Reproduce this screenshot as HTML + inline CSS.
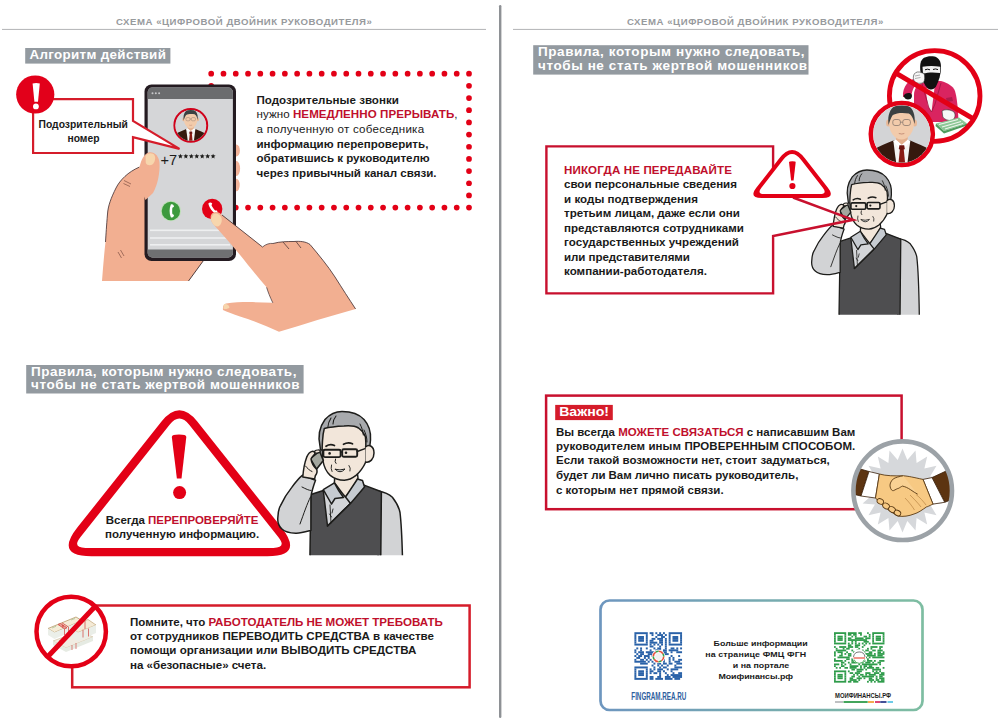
<!DOCTYPE html>
<html><head><meta charset="utf-8"><style>
html,body{margin:0;padding:0;background:#fff;}
body{width:1000px;height:724px;position:relative;overflow:hidden;font-family:"Liberation Sans", sans-serif;}
.t{position:absolute;white-space:nowrap;font-weight:bold;line-height:1;color:#1a1a1a;}
svg.g{position:absolute;left:0;top:0;}
</style></head><body>
<svg class="g" width="1000" height="724" viewBox="0 0 1000 724">
<defs>
 <linearGradient id="qrg" x1="0" y1="0" x2="1" y2="0">
  <stop offset="0" stop-color="#5a88b6"/><stop offset="1" stop-color="#6cb495"/>
 </linearGradient>
<clipPath id="bizclip"><circle r="28.6"/></clipPath>
 
<clipPath id="clipL"><rect x="0" y="380" width="500" height="175.3"/></clipPath>
<clipPath id="clipR"><rect x="500" y="150" width="500" height="164.8"/></clipPath>


</defs>
<!-- frame lines -->
<rect x="499" y="5" width="2.4" height="713" rx="1.2" fill="#8e9195"/>
<rect x="2" y="28.9" width="484" height="1.1" fill="#b9babc"/>
<rect x="513" y="28.9" width="485" height="1.1" fill="#b9babc"/>
<!-- labels -->
<rect x="25.2" y="48" width="145.2" height="15.6" fill="#939aa0"/>
<rect x="26.2" y="365" width="277.4" height="28.5" fill="#939aa0"/>
<rect x="533.2" y="45.2" width="275.3" height="29.4" fill="#939aa0"/>

<!-- ===== LEFT SECTION 1 ===== -->
<g id="dots" fill="#e30016"><circle cx="211.20" cy="73.70" r="2.85"/><circle cx="211.20" cy="207.60" r="2.85"/><circle cx="223.48" cy="73.70" r="2.85"/><circle cx="223.48" cy="207.60" r="2.85"/><circle cx="235.75" cy="73.70" r="2.85"/><circle cx="235.75" cy="207.60" r="2.85"/><circle cx="248.03" cy="73.70" r="2.85"/><circle cx="248.03" cy="207.60" r="2.85"/><circle cx="260.30" cy="73.70" r="2.85"/><circle cx="260.30" cy="207.60" r="2.85"/><circle cx="272.58" cy="73.70" r="2.85"/><circle cx="272.58" cy="207.60" r="2.85"/><circle cx="284.86" cy="73.70" r="2.85"/><circle cx="284.86" cy="207.60" r="2.85"/><circle cx="297.13" cy="73.70" r="2.85"/><circle cx="297.13" cy="207.60" r="2.85"/><circle cx="309.41" cy="73.70" r="2.85"/><circle cx="309.41" cy="207.60" r="2.85"/><circle cx="321.68" cy="73.70" r="2.85"/><circle cx="321.68" cy="207.60" r="2.85"/><circle cx="333.96" cy="73.70" r="2.85"/><circle cx="333.96" cy="207.60" r="2.85"/><circle cx="346.24" cy="73.70" r="2.85"/><circle cx="346.24" cy="207.60" r="2.85"/><circle cx="358.51" cy="73.70" r="2.85"/><circle cx="358.51" cy="207.60" r="2.85"/><circle cx="370.79" cy="73.70" r="2.85"/><circle cx="370.79" cy="207.60" r="2.85"/><circle cx="383.06" cy="73.70" r="2.85"/><circle cx="383.06" cy="207.60" r="2.85"/><circle cx="395.34" cy="73.70" r="2.85"/><circle cx="395.34" cy="207.60" r="2.85"/><circle cx="407.62" cy="73.70" r="2.85"/><circle cx="407.62" cy="207.60" r="2.85"/><circle cx="419.89" cy="73.70" r="2.85"/><circle cx="419.89" cy="207.60" r="2.85"/><circle cx="432.17" cy="73.70" r="2.85"/><circle cx="432.17" cy="207.60" r="2.85"/><circle cx="444.44" cy="73.70" r="2.85"/><circle cx="444.44" cy="207.60" r="2.85"/><circle cx="456.72" cy="73.70" r="2.85"/><circle cx="456.72" cy="207.60" r="2.85"/><circle cx="469.00" cy="73.70" r="2.85"/><circle cx="469.00" cy="207.60" r="2.85"/><circle cx="211.20" cy="85.87" r="2.85"/><circle cx="469.00" cy="85.87" r="2.85"/><circle cx="211.20" cy="98.05" r="2.85"/><circle cx="469.00" cy="98.05" r="2.85"/><circle cx="211.20" cy="110.22" r="2.85"/><circle cx="469.00" cy="110.22" r="2.85"/><circle cx="211.20" cy="122.39" r="2.85"/><circle cx="469.00" cy="122.39" r="2.85"/><circle cx="211.20" cy="134.56" r="2.85"/><circle cx="469.00" cy="134.56" r="2.85"/><circle cx="211.20" cy="146.74" r="2.85"/><circle cx="469.00" cy="146.74" r="2.85"/><circle cx="211.20" cy="158.91" r="2.85"/><circle cx="469.00" cy="158.91" r="2.85"/><circle cx="211.20" cy="171.08" r="2.85"/><circle cx="469.00" cy="171.08" r="2.85"/><circle cx="211.20" cy="183.26" r="2.85"/><circle cx="469.00" cy="183.26" r="2.85"/><circle cx="211.20" cy="195.43" r="2.85"/><circle cx="469.00" cy="195.43" r="2.85"/></g>
<!-- left hand back (behind phone) -->
<g id="lhand">
 <path d="M139.5,167 C128,172 120,180 116,188 C111,198 108,206 107.5,214 C106.5,226 106,234 105.5,242 C104,255 103,268 102,281 L188.5,281 L203.5,260.5 L150,200 Z" fill="#f2af91"/>
 <path d="M139.5,167 C128,172 120,180 116,188 C111,198 108,206 107.5,214 C106.5,226 106,234 105.5,242" fill="none" stroke="#3d2b2e" stroke-width="0.8"/>
 <path d="M188.5,281 L203.5,260.5" fill="none" stroke="#3d2b2e" stroke-width="0.9"/>
 <!-- fingers on right edge of phone -->
 <ellipse cx="236.3" cy="150.5" rx="3.6" ry="6" fill="#f3b49a"/>
 <ellipse cx="236.3" cy="168.5" rx="3.8" ry="7.5" fill="#f3b49a"/>
 <ellipse cx="236.3" cy="185" rx="3.4" ry="6.3" fill="#f3b49a"/>
</g>
<!-- phone -->
<g id="phone">
 <rect x="144.5" y="84.5" width="91.5" height="176.5" rx="7" fill="#241b21"/>
 <rect x="147.7" y="87.6" width="85.2" height="169.8" rx="4.5" fill="#d5d6d8"/>
 <path d="M147.7,99 V92 a4.5,4.5 0 0 1 4.5,-4.4 H228.4 a4.5,4.5 0 0 1 4.5,4.4 V99 Z" fill="#6b6c6e"/>
 <circle cx="152.5" cy="93.2" r="1" fill="#c9c9cb"/><circle cx="155.8" cy="93.2" r="1" fill="#c9c9cb"/><circle cx="159.1" cy="93.2" r="1" fill="#c9c9cb"/>
 <path d="M147.7,249.5 H232.9 V253 a4.5,4.5 0 0 1 -4.5,4.4 H152.2 a4.5,4.5 0 0 1 -4.5,-4.4 Z" fill="#6f7072"/>
 <rect x="150" y="229.5" width="80" height="1.6" fill="#eeeff0"/>
 <rect x="150" y="237.2" width="80" height="1.6" fill="#eeeff0"/>
 <rect x="150" y="244" width="80" height="1.6" fill="#eeeff0"/>
 <!-- avatar -->
 <circle cx="190.8" cy="125.4" r="16.3" fill="#d5d6d8" stroke="#d0021b" stroke-width="2.2"/>
 <g transform="translate(190.8,125.4) scale(0.54)"><g>
  <circle r="28.6" fill="#d3d4d6"/>
  <g clip-path="url(#bizclip)">
   <path d="M-30,30 L-30,17 C-24,12.5 -15,9.5 -8.5,6.5 L8.5,6.5 C15,9.5 24,12.5 30,17 L30,30 Z" fill="#35190e"/>
   <path d="M-8.5,6.5 L8.5,6.5 L5.5,30 L-5.5,30 Z" fill="#f4f4f2"/>
   <path d="M-5.5,-3 L5.5,-3 L6,6 L0,11 L-6,6 Z" fill="#e3b08e"/>
   <path d="M-6,5.5 L0,11 L-2.5,14 L-8.5,7.5 Z M6,5.5 L0,11 L2.5,14 L8.5,7.5 Z" fill="#fff"/>
   <path d="M-2.4,11.2 L2.4,11.2 L3,15 L0,17 L-3,15 Z" fill="#6e1510"/>
   <path d="M-2,16 L2,16 L3.4,30 L-3.4,30 Z" fill="#8a1b14"/>
   <ellipse cx="13" cy="-11" rx="2.2" ry="3.5" fill="#e8b896"/>
   <ellipse cx="-13.5" cy="-11" rx="2.2" ry="3.5" fill="#e8b896"/>
   <ellipse cx="-0.3" cy="-10.5" rx="12.3" ry="16" fill="#f2cbab"/>
   <path d="M-13.2,-9 C-15,-21 -10,-29.5 -1,-29.8 C9,-30 14,-23 12.8,-10 C11.5,-15 10.5,-18.5 7,-20.5 C2,-21.5 -5,-21.5 -9,-19 C-11,-16 -12,-13 -13.2,-9 Z" fill="#3b4142"/>
   <g fill="none" stroke="#8a7a70" stroke-width="0.8"><rect x="-9" y="-14.5" width="7.6" height="6" rx="2.2"/><rect x="1" y="-14.5" width="7.6" height="6" rx="2.2"/><path d="M-1.6,-11.8 H1"/></g>
   <path d="M-3,-0.5 Q0,0.5 2.5,-0.5" stroke="#b57a66" stroke-width="0.7" fill="none"/>
  </g>
 </g></g>
 <!-- call buttons -->
 <circle cx="170.9" cy="211" r="10.2" fill="#bfe0b8"/>
 <circle cx="170.9" cy="211" r="9.2" fill="#3c9a3d"/>
 <path d="M168.2,204.5 c2,-0.6 3,0.3 3.2,2.2 l-1.6,1 c-0.3,1.3 -0.3,5 0,6.3 l1.6,1 c-0.2,1.9 -1.2,2.8 -3.2,2.2 c-1.6,-3.5 -1.6,-9.2 0,-12.7 z" fill="#fff" transform="translate(2.6,0)"/>
 <circle cx="212.2" cy="209" r="10.2" fill="#e30016"/>
 <path d="M209.5,202.5 c2,-0.6 3,0.3 3.2,2.2 l-1.6,1 c-0.3,1.3 -0.3,5 0,6.3 l1.6,1 c-0.2,1.9 -1.2,2.8 -3.2,2.2 c-1.6,-3.5 -1.6,-9.2 0,-12.7 z" fill="#fff" transform="rotate(-35 212 209) translate(2.6,0)"/>
</g>
<!-- thumb over phone -->
<path d="M139.5,167 C141,160 144,154 148.5,152.5 C154,151 159,156 159.5,163 C160,172 158,184 153,193 L145.5,200 L139,185 Z" fill="#f2af91"/>
<path d="M145.5,156 C147,153 151,152.5 153.5,154 C156,156 155.5,161 153,164 C150.5,166 147,165.5 145.8,163 Z" fill="#f7d6ad"/>
<path d="M124,180.5 L131,184 M123.5,183.5 L130,186.5" stroke="#6b3f35" stroke-width="0.6"/>
<path d="M118,252 L121.5,258 M120.5,250 L124,256" stroke="#6b3f35" stroke-width="0.6"/>
<!-- right hand pointing -->
<g id="rhand">
 <path d="M212,213.5 C215,211 219,211.5 222,215 L262.5,247 C266,244 270,243 273,243.5 C280,241.5 287,241.5 294,241.5 C300,241 306,241.5 310,244.5 C318,254 328,266 335,277 C342,288 349,299 355.6,309 C330,316 305,324 279,331.8 C266,326 252,320 240,316.5 C233,314 227,312 223,310 C222.5,306 224,304 226,303.5 C240,301.5 256,302 272.8,302.8 C270,297 268,292 266.6,287.3 C260,280 254,272 248,265 C238,252 226,238 214,225 C210.5,221 209.5,216.5 212,213.5 Z" fill="#f2af91"/>
 <path d="M222,215 L262.5,247 M273,243.5 C280,241.5 287,241.5 294,241.5 C300,241 306,241.5 310,244.5 C318,254 328,266 335,277 C342,288 349,299 355.6,309" fill="none" stroke="#3d2b2e" stroke-width="0.8"/>
 <path d="M262.5,247 C266,244 270,243 273,243.5 M283,242 L289,249 M296,241.5 L301,248" fill="none" stroke="#3d2b2e" stroke-width="0.7"/>
 <path d="M266.6,287.3 C268,292 270,297 272.8,302.8" fill="none" stroke="#3d2b2e" stroke-width="0.7"/>
 <path d="M213,214.5 C216,212.5 220,214 221.5,218 C222.5,222 220.5,226 217.5,226.5 C214,226.5 211,222 211,218.5 Z" fill="#f7d6ad"/>
 <path d="M224,304 C227,303.5 229,305 229.5,307.5 C228,309 225,309.5 223.3,308.5 Z" fill="#f7d6ad"/>
</g>

<!-- speech box -->
<path d="M133,121 V99.2 H33.1 V153 H133 V137.2 L179.5,148.9 Z" fill="#fff" stroke="#d51c2a" stroke-width="2.2" stroke-linejoin="miter"/>
<circle cx="35.25" cy="94.5" r="19.1" fill="#e2001a"/>
<path d="M32.6,83.6 Q36.2,82.6 39.8,83.6 L38,101.7 L34.4,101.7 Z" fill="#fff"/>
<circle cx="35.9" cy="106.4" r="2.9" fill="#fff"/>
<!-- +7 -->
<text x="160.5" y="164.6" font-family="Liberation Sans" font-size="14.6" fill="#1d1d1b">+7</text>
<g fill="#1d1d1b" id="stars"><polygon points="180.40,153.70 181.08,155.37 182.87,155.50 181.49,156.66 181.93,158.40 180.40,157.45 178.87,158.40 179.31,156.66 177.93,155.50 179.72,155.37"/><polygon points="185.85,153.70 186.53,155.37 188.32,155.50 186.94,156.66 187.38,158.40 185.85,157.45 184.32,158.40 184.76,156.66 183.38,155.50 185.17,155.37"/><polygon points="191.30,153.70 191.98,155.37 193.77,155.50 192.39,156.66 192.83,158.40 191.30,157.45 189.77,158.40 190.21,156.66 188.83,155.50 190.62,155.37"/><polygon points="196.75,153.70 197.43,155.37 199.22,155.50 197.84,156.66 198.28,158.40 196.75,157.45 195.22,158.40 195.66,156.66 194.28,155.50 196.07,155.37"/><polygon points="202.20,153.70 202.88,155.37 204.67,155.50 203.29,156.66 203.73,158.40 202.20,157.45 200.67,158.40 201.11,156.66 199.73,155.50 201.52,155.37"/><polygon points="207.65,153.70 208.33,155.37 210.12,155.50 208.74,156.66 209.18,158.40 207.65,157.45 206.12,158.40 206.56,156.66 205.18,155.50 206.97,155.37"/><polygon points="213.10,153.70 213.78,155.37 215.57,155.50 214.19,156.66 214.63,158.40 213.10,157.45 211.57,158.40 212.01,156.66 210.63,155.50 212.42,155.37"/></g>


<!-- ===== LEFT SECTION 2 ===== -->
<path d="M161.50,421.46 L77.50,527.32 Q54.50,556.30 91.50,556.30 L267.30,556.30 Q304.30,556.30 281.30,527.32 L197.30,421.46 Q179.40,398.90 161.50,421.46 Z" fill="#e30016"/>
<path d="M169.58,424.79 L80.34,537.25 Q71.89,547.90 85.49,547.90 L273.31,547.90 Q286.91,547.90 278.46,537.25 L189.22,424.79 Q179.40,412.41 169.58,424.79 Z" fill="#fff"/>
<path d="M171.8,437 Q172,434.6 179,434.6 Q186.3,434.6 186.3,437 L181.5,478.4 L176.9,478.4 Z" fill="#e30016"/>
<circle cx="179.6" cy="492.6" r="6.5" fill="#e30016"/>
<g clip-path="url(#clipL)"><g stroke="#1d1d1b" stroke-width="1.5" stroke-linejoin="round" stroke-linecap="round">
  <!-- right sleeve -->
  <path d="M378,491 C384,492 389,494 392.4,497.3 C396,502 399,507 400,512.5 C401.5,525 402.5,545 403,585 L378,585 Z" fill="#d2d3d5"/>
  <!-- shirt inside V -->
  <path d="M322,491 L334.4,482.8 L358,478 L364,484.9 L349.6,504.2 L327.5,526 Z" fill="#d3d5d8" stroke="none"/>
  <!-- vest -->
  <path d="M310.9,494.5 L323.3,490.5 L327.5,526 L349.6,504.2 L363.4,484.9 L381.4,491.8 L380.5,585 L309.5,585 Z" fill="#4e4e50"/>
  <path d="M327.5,526 L349.6,504.2" fill="none"/>
  <!-- neck -->
  <path d="M334.4,482.8 C338,487 341.5,493 345.5,497 C350,492 355,485 358,478 L357,470 L335,472 Z" fill="#f2e6da"/>
  <!-- collars -->
  <path d="M323.3,489.7 L334.4,482.8 C337,488 340,493 343.5,497.5 L335,498.5 L331.5,504 Z" fill="#c6cbd1"/>
  <path d="M345.5,497 L357.5,479 L362.5,480.5 L364.5,487 L350.5,503.5 Z" fill="#c6cbd1"/>
  <path d="M330,505 L331,523 M333,509 L332,513 M329.5,514 L331.5,517" fill="none" stroke-width="0.9"/>
  <!-- left arm sleeve -->
  <path d="M302.6,475.2 L315.5,480.2 C313,487 311.5,492 310.9,497.3 L310.9,530.4 C305,532 300,533.5 295.7,533.2 C289,533 284,531 281.9,529 C278.5,526 277.5,522 277.8,518 C278,512 279,508 280.5,505.6 C284,498 288,492 291.6,487.6 C295,483 299,478 302.6,475.2 Z" fill="#d2d3d5"/>
  <path d="M302,487 C306,489 309,490.5 311,490.5 M300,524 C304,513 307,504 310.5,497" fill="none" stroke-width="1"/>
  <!-- hair back -->
  <path d="M320,446 C318,437 319.5,427 325,419.5 C330,414 336,411.5 342,411.5 C351,411.5 359,414 364,419.5 C369,425 371,433 370.5,440 C370.2,444 369.8,447 369,450 L320.5,450 Z" fill="#a8aaad"/>
  <!-- face -->
  <path d="M324.3,428.5 C330,427 337,426.3 344,426 C350,425.5 355,425.8 358.5,428 C361.5,430 364,433.5 365.4,436.7 C366,441 366,445 365.8,449 L365.8,462 C363,468 360,472 356,475.4 C352,478.5 348,480.1 344.3,480.3 C339,480.3 334,478.5 330.2,475.4 C326.5,472 324,467 323,461 C322,455 322,448 322.5,441 C322.8,436 323.3,432 324.3,428.5 Z" fill="#f2e6da"/>
  <!-- hair strands -->
  <path d="M331,418 C329,421 328,424 327.8,427.5 M336,416 C334,418.5 333,421 333,424" fill="none" stroke-width="1.1"/>
  <path d="M360,424 C362,428 363,431 363.3,435 M364,430 C366,434 367,438 367,442" fill="none" stroke-width="1"/>
  <!-- ear -->
  <path d="M365.5,447 C369,444 374,446 374,453 C374,459 370,463 365.5,462" fill="#f2e6da"/>
  <!-- eyebrows -->
  <path d="M326,446.3 Q330,443.5 334.5,445.5 M343.5,444.3 Q348,441.8 352.5,443.8" fill="none" stroke-width="1.7"/>
  <!-- glasses -->
  <rect x="323.4" y="449.8" width="17.2" height="7.3" rx="1.5" fill="none" stroke-width="1.9"/>
  <rect x="342.2" y="449.3" width="15" height="7.4" rx="1.5" fill="none" stroke-width="1.9"/>
  <path d="M340.6,452.2 L342.2,452 M357.2,451.5 L365,448.6" fill="none" stroke-width="1.4"/>
  <circle cx="329.6" cy="453.4" r="1.3" fill="#1d1d1b" stroke="none"/>
  <circle cx="346" cy="452.8" r="1.3" fill="#1d1d1b" stroke="none"/>
  <!-- nose/cheek/mouth -->
  <path d="M335.5,459 Q334.3,462 336,463.5" fill="none" stroke-width="1"/>
  <path d="M331.5,465 Q330.5,468.5 332,471.5 M349,465.5 Q351,468 350,471" fill="none" stroke-width="0.9"/>
  <path d="M335.3,469.3 Q340,474.5 345,469 Q340,470.8 335.3,469.3 Z" fill="#fff" stroke-width="1"/>
  <!-- phone -->
  <path d="M310.3,458.6 L319.6,451.2 L323.3,460.5 L316.5,469.2 Z" fill="#a3a69e" stroke-width="1.6"/>
  <!-- hand -->
  <path d="M302.8,477 C303.3,470 304.5,463 306.6,457.4 C308,454 309.8,452 312,451.4 C314,451.2 315.3,452.3 314.8,454 C313.5,455.5 311.8,457 311,459 C311.5,462.5 313.5,466.5 316.5,469.2 C317.5,471 317,473.5 315.3,475.8 L314.6,479 Z" fill="#f2e6da"/>
  <path d="M314.5,451.2 C316.5,449.6 319.5,449.6 320.5,451 C320,452.6 317.5,453.3 315.2,453 Z" fill="#f2e6da" stroke-width="1.2"/>
  <path d="M305.5,466 C307.5,468.5 309.5,470.5 312,471.5" fill="none" stroke-width="1"/>
</g></g>

<!-- ===== LEFT SECTION 3 ===== -->
<rect x="72.2" y="605.5" width="397.4" height="81.8" fill="none" stroke="#d51c2a" stroke-width="2.5"/>
<!-- money prohibition -->
<circle cx="71.2" cy="631.5" r="34.7" fill="#fff"/>
<g id="money" stroke-linejoin="round">
 <!-- bottom bundle C -->
 <path d="M53,641 L80,631 L93,637 L66,648 Z" fill="#f1ece2" stroke="#c9b894" stroke-width="0.6"/>
 <path d="M53,641 L66,648 L66,652 L53,645 Z M66,648 L93,637 L93,641 L66,652 Z" fill="#e6ebe3"/>
 <!-- right bundle B -->
 <path d="M70,627 L88,619.5 L96,625 L78,632.5 Z" fill="#f4ead6" stroke="#c2a577" stroke-width="0.7"/>
 <path d="M70,627 L78,632.5 L78,641 L70,635.5 Z M78,632.5 L96,625 L96,633 L78,641 Z" fill="#eaeee8"/>
 <path d="M85,621 L85,629 M88.5,628.5 L88.5,636.5 M83,629.5 L83,637.5" stroke="#d6544e" stroke-width="0.8" fill="none"/>
 <!-- top-left bundle A -->
 <path d="M48,628.5 L76,617 L82,620.5 L54.5,632.5 Z" fill="#f5ecd7" stroke="#b89a6c" stroke-width="0.8"/>
 <path d="M48,628.5 L54.5,632.5 L54.5,639 L48,635 Z M54.5,632.5 L82,620.5 L82,627 L54.5,639 Z" fill="#ebefe9"/>
 <path d="M58,624.5 L64.5,628.8 M62,622.8 L68.5,627 M58,624.5 L60.5,623.5 L67,627.8 L64.5,628.8" stroke="#d6544e" stroke-width="0.9" fill="#e9a49a"/>
 <path d="M64.5,628.8 L64.5,635 M68.5,627 L68.5,633.5" stroke="#d6544e" stroke-width="0.8"/>
 <circle cx="63" cy="625.8" r="1.1" fill="#d6544e"/>
 <path d="M52,628 L56,626.3 M71,620 L75,618.5" stroke="#a9c49b" stroke-width="0.8"/>
 <path d="M60,640 L60,646 M72,645 L72,650 M76,643 L76,649" stroke="#d6544e" stroke-width="0.7"/>
</g>
<circle cx="71.2" cy="631.5" r="34.7" fill="none" stroke="#e30016" stroke-width="4.5"/>
<path d="M96,605.5 L47,657.5" stroke="#e30016" stroke-width="5"/>


<!-- ===== RIGHT SECTION 1 ===== -->

<g clip-path="url(#clipR)"><g transform="translate(866.9,170) scale(0.86) translate(-342,-411.5)"><g stroke="#1d1d1b" stroke-width="1.5" stroke-linejoin="round" stroke-linecap="round">
  <!-- right sleeve -->
  <path d="M378,491 C384,492 389,494 392.4,497.3 C396,502 399,507 400,512.5 C401.5,525 402.5,545 403,585 L378,585 Z" fill="#d2d3d5"/>
  <!-- shirt inside V -->
  <path d="M322,491 L334.4,482.8 L358,478 L364,484.9 L349.6,504.2 L327.5,526 Z" fill="#d3d5d8" stroke="none"/>
  <!-- vest -->
  <path d="M310.9,494.5 L323.3,490.5 L327.5,526 L349.6,504.2 L363.4,484.9 L381.4,491.8 L380.5,585 L309.5,585 Z" fill="#4e4e50"/>
  <path d="M327.5,526 L349.6,504.2" fill="none"/>
  <!-- neck -->
  <path d="M334.4,482.8 C338,487 341.5,493 345.5,497 C350,492 355,485 358,478 L357,470 L335,472 Z" fill="#f2e6da"/>
  <!-- collars -->
  <path d="M323.3,489.7 L334.4,482.8 C337,488 340,493 343.5,497.5 L335,498.5 L331.5,504 Z" fill="#c6cbd1"/>
  <path d="M345.5,497 L357.5,479 L362.5,480.5 L364.5,487 L350.5,503.5 Z" fill="#c6cbd1"/>
  <path d="M330,505 L331,523 M333,509 L332,513 M329.5,514 L331.5,517" fill="none" stroke-width="0.9"/>
  <!-- left arm sleeve -->
  <path d="M302.6,475.2 L315.5,480.2 C313,487 311.5,492 310.9,497.3 L310.9,530.4 C305,532 300,533.5 295.7,533.2 C289,533 284,531 281.9,529 C278.5,526 277.5,522 277.8,518 C278,512 279,508 280.5,505.6 C284,498 288,492 291.6,487.6 C295,483 299,478 302.6,475.2 Z" fill="#d2d3d5"/>
  <path d="M302,487 C306,489 309,490.5 311,490.5 M300,524 C304,513 307,504 310.5,497" fill="none" stroke-width="1"/>
  <!-- hair back -->
  <path d="M320,446 C318,437 319.5,427 325,419.5 C330,414 336,411.5 342,411.5 C351,411.5 359,414 364,419.5 C369,425 371,433 370.5,440 C370.2,444 369.8,447 369,450 L320.5,450 Z" fill="#a8aaad"/>
  <!-- face -->
  <path d="M324.3,428.5 C330,427 337,426.3 344,426 C350,425.5 355,425.8 358.5,428 C361.5,430 364,433.5 365.4,436.7 C366,441 366,445 365.8,449 L365.8,462 C363,468 360,472 356,475.4 C352,478.5 348,480.1 344.3,480.3 C339,480.3 334,478.5 330.2,475.4 C326.5,472 324,467 323,461 C322,455 322,448 322.5,441 C322.8,436 323.3,432 324.3,428.5 Z" fill="#f2e6da"/>
  <!-- hair strands -->
  <path d="M331,418 C329,421 328,424 327.8,427.5 M336,416 C334,418.5 333,421 333,424" fill="none" stroke-width="1.1"/>
  <path d="M360,424 C362,428 363,431 363.3,435 M364,430 C366,434 367,438 367,442" fill="none" stroke-width="1"/>
  <!-- ear -->
  <path d="M365.5,447 C369,444 374,446 374,453 C374,459 370,463 365.5,462" fill="#f2e6da"/>
  <!-- eyebrows -->
  <path d="M326,446.3 Q330,443.5 334.5,445.5 M343.5,444.3 Q348,441.8 352.5,443.8" fill="none" stroke-width="1.7"/>
  <!-- glasses -->
  <rect x="323.4" y="449.8" width="17.2" height="7.3" rx="1.5" fill="none" stroke-width="1.9"/>
  <rect x="342.2" y="449.3" width="15" height="7.4" rx="1.5" fill="none" stroke-width="1.9"/>
  <path d="M340.6,452.2 L342.2,452 M357.2,451.5 L365,448.6" fill="none" stroke-width="1.4"/>
  <circle cx="329.6" cy="453.4" r="1.3" fill="#1d1d1b" stroke="none"/>
  <circle cx="346" cy="452.8" r="1.3" fill="#1d1d1b" stroke="none"/>
  <!-- nose/cheek/mouth -->
  <path d="M335.5,459 Q334.3,462 336,463.5" fill="none" stroke-width="1"/>
  <path d="M331.5,465 Q330.5,468.5 332,471.5 M349,465.5 Q351,468 350,471" fill="none" stroke-width="0.9"/>
  <path d="M335.3,469.3 Q340,474.5 345,469 Q340,470.8 335.3,469.3 Z" fill="#fff" stroke-width="1"/>
  <!-- phone -->
  <path d="M310.3,458.6 L319.6,451.2 L323.3,460.5 L316.5,469.2 Z" fill="#a3a69e" stroke-width="1.6"/>
  <!-- hand -->
  <path d="M302.8,477 C303.3,470 304.5,463 306.6,457.4 C308,454 309.8,452 312,451.4 C314,451.2 315.3,452.3 314.8,454 C313.5,455.5 311.8,457 311,459 C311.5,462.5 313.5,466.5 316.5,469.2 C317.5,471 317,473.5 315.3,475.8 L314.6,479 Z" fill="#f2e6da"/>
  <path d="M314.5,451.2 C316.5,449.6 319.5,449.6 320.5,451 C320,452.6 317.5,453.3 315.2,453 Z" fill="#f2e6da" stroke-width="1.2"/>
  <path d="M305.5,466 C307.5,468.5 309.5,470.5 312,471.5" fill="none" stroke-width="1"/>
</g></g></g>
<!-- right box 1 with tail -->
<path d="M793,197.5 L853.3,219.8 L773.1,236 V293.4 H546.4 V146.4 H773.1 V170" fill="none" stroke="#c8102e" stroke-width="2.4" stroke-linejoin="miter"/>
<path d="M779.33,158.22 L756.47,187.60 Q748.30,198.10 761.60,198.10 L822.60,198.10 Q835.90,198.10 827.73,187.60 L804.87,158.22 Q792.10,141.80 779.33,158.22 Z" fill="#e30016"/>
<path d="M783.20,159.76 L761.39,187.79 Q756.48,194.10 764.48,194.10 L819.72,194.10 Q827.72,194.10 822.81,187.79 L801.00,159.76 Q792.10,148.31 783.20,159.76 Z" fill="#fff"/>
<path d="M789,162 Q789.2,161.2 792.3,161.2 Q795.7,161.2 795.7,162 L793.6,180.6 L791.1,180.6 Z" fill="#e30016"/>
<circle cx="792.4" cy="186" r="3.1" fill="#e30016"/>

<!-- prohibition circle with masked man -->
<circle cx="934.7" cy="96" r="45.3" fill="#fff"/>
<g id="thief">
 <!-- jacket body -->
 <path d="M914,122 L914,95 C914,89 917,85 922,83 L930,81 L941,81 C948,83 953,86 955,91 C957,98 958,108 958.5,122 Z" fill="#d92460"/>
 <!-- raised arm -->
 <path d="M903,97 C902.5,92 904,87 907,83.5 L913,79 L918,83 C914,86.5 912,90 911.5,96 Z" fill="#d92460"/>
 <path d="M903.5,96 C904.5,93.5 907.5,92.5 910.5,93.3 C912.5,94.5 912.5,97.5 910.5,99 C907.5,100 905,99.5 903.5,96 Z" fill="#151515"/>
 <!-- shirt V -->
 <path d="M925.5,88.5 L934.5,88 L931.5,111.8 L928,106 Z" fill="#f5f5f5"/>
 <path d="M922,84 L929,108 L931.5,112 M941,83 L935,104 L931.5,112" stroke="#9a1441" stroke-width="0.8" fill="none"/>
 <path d="M946,98 L952,97 L953,101 L947,102 Z" fill="#b01a4b"/>
 <!-- head balaclava -->
 <path d="M920.5,72 C919.5,65 920.5,60 924,57.8 C927,56 931,55.8 934.5,56.5 C939,57.8 941,61.5 941,67 C941,74 939,81 936,86.5 C934,89.5 930.5,90.5 928,88.5 C924.5,85.5 921.5,79 920.5,72 Z" fill="#111"/>
 <path d="M922.5,66.8 C928,65.8 934.5,65.8 940.3,66.8 L940,73 C934.5,72.2 928,72.2 923,73.6 Z" fill="#f1f1f1"/>
 <path d="M925,69.8 Q927.5,68.5 930,69.8 M933,69.5 Q935.5,68.3 938,69.6" stroke="#111" stroke-width="1" fill="none"/>
 <!-- hand with phone -->
 <path d="M913.5,76 C914,73 916.5,71.5 919.5,72 L924,73.5 C925,76.5 925,80 923.5,82.5 C920.5,84 916.5,83.5 914.5,81.5 C913.3,79.5 913.2,77.5 913.5,76 Z" fill="#f6f6f6" stroke="#333" stroke-width="0.6"/>
 <path d="M915,76 L920,75 M915,78.5 L920.5,77.5" stroke="#666" stroke-width="0.5"/>
 <!-- right hand -->
 <path d="M942,111 C945,109 950.5,109.5 954,112 C955.8,114.5 955.3,118.5 952,120.3 C948,121 944.5,119.5 942.8,117 Z" fill="#f6f6f6" stroke="#333" stroke-width="0.6"/>
 <!-- money -->
 <path d="M936,123.5 L959,117.5 L967,123.5 L944,131 Z" fill="#8cc796"/>
 <path d="M939,124.5 L958,119.5 M942,127 L961,121.5 M945,129 L963,123.5" stroke="#eef5ec" stroke-width="1.1"/>
 <path d="M936,123.5 L944,131 L967,123.5 L967,125.5 L944,133.5 L935.5,126 Z" fill="#4f9c5e"/>
</g>
<circle cx="934.7" cy="96" r="45.3" fill="none" stroke="#e30016" stroke-width="4.8"/>
<path d="M896.8,73.6 L972.6,118.4" stroke="#e30016" stroke-width="5"/>
<!-- businessman circle -->
<circle cx="901.8" cy="134" r="31" fill="#fff" stroke="#e30016" stroke-width="4.6"/>
<g transform="translate(901.8,134)"><g>
  <circle r="28.6" fill="#d3d4d6"/>
  <g clip-path="url(#bizclip)">
   <path d="M-30,30 L-30,17 C-24,12.5 -15,9.5 -8.5,6.5 L8.5,6.5 C15,9.5 24,12.5 30,17 L30,30 Z" fill="#35190e"/>
   <path d="M-8.5,6.5 L8.5,6.5 L5.5,30 L-5.5,30 Z" fill="#f4f4f2"/>
   <path d="M-5.5,-3 L5.5,-3 L6,6 L0,11 L-6,6 Z" fill="#e3b08e"/>
   <path d="M-6,5.5 L0,11 L-2.5,14 L-8.5,7.5 Z M6,5.5 L0,11 L2.5,14 L8.5,7.5 Z" fill="#fff"/>
   <path d="M-2.4,11.2 L2.4,11.2 L3,15 L0,17 L-3,15 Z" fill="#6e1510"/>
   <path d="M-2,16 L2,16 L3.4,30 L-3.4,30 Z" fill="#8a1b14"/>
   <ellipse cx="13" cy="-11" rx="2.2" ry="3.5" fill="#e8b896"/>
   <ellipse cx="-13.5" cy="-11" rx="2.2" ry="3.5" fill="#e8b896"/>
   <ellipse cx="-0.3" cy="-10.5" rx="12.3" ry="16" fill="#f2cbab"/>
   <path d="M-13.2,-9 C-15,-21 -10,-29.5 -1,-29.8 C9,-30 14,-23 12.8,-10 C11.5,-15 10.5,-18.5 7,-20.5 C2,-21.5 -5,-21.5 -9,-19 C-11,-16 -12,-13 -13.2,-9 Z" fill="#3b4142"/>
   <g fill="none" stroke="#8a7a70" stroke-width="0.8"><rect x="-9" y="-14.5" width="7.6" height="6" rx="2.2"/><rect x="1" y="-14.5" width="7.6" height="6" rx="2.2"/><path d="M-1.6,-11.8 H1"/></g>
   <path d="M-3,-0.5 Q0,0.5 2.5,-0.5" stroke="#b57a66" stroke-width="0.7" fill="none"/>
  </g>
 </g></g>


<!-- ===== RIGHT SECTION 2 ===== -->
<rect x="546.1" y="395.6" width="355.5" height="113.6" fill="none" stroke="#c8102e" stroke-width="2.5"/>
<rect x="555.2" y="404.9" width="57.6" height="15.2" fill="#d51c2a"/>
<!-- handshake circle -->
<clipPath id="hsclip"><circle cx="902.7" cy="490.7" r="49.5"/></clipPath>
<circle cx="902.7" cy="490.7" r="49.5" fill="#fff"/>
<g clip-path="url(#hsclip)">
 <path id="burst" fill="#d6d8db" d="M902.5,448.5 L907.3,459.9 L915.5,450.6 L916.6,462.9 L927.2,456.5 L924.4,468.6 L936.5,465.8 L930.1,476.4 L942.4,477.5 L933.1,485.7 L944.5,490.5 L933.1,495.3 L942.4,503.5 L930.1,504.6 L936.5,515.2 L924.4,512.4 L927.2,524.5 L916.6,518.1 L915.5,530.4 L907.3,521.1 L902.5,532.5 L897.7,521.1 L889.5,530.4 L888.4,518.1 L877.8,524.5 L880.6,512.4 L868.5,515.2 L874.9,504.6 L862.6,503.5 L871.9,495.3 L860.5,490.5 L871.9,485.7 L862.6,477.5 L874.9,476.4 L868.5,465.8 L880.6,468.6 L877.8,456.5 L888.4,462.9 L889.5,450.6 L897.7,459.9 Z"/>
 <!-- left sleeve -->
 <path d="M850,466 L869,471.5 L861,496 L848,493 Z" fill="#5c3411" stroke="#3a200a" stroke-width="0.8"/>
 <path d="M869,471.5 L879.4,474 L875.5,498 L861,496 Z" fill="#fff" stroke="#3a200a" stroke-width="0.8"/>
 <!-- right sleeve -->
 <path d="M932,477.6 L946.5,470.8 L956,498 L944.7,502.3 Z" fill="#5c3411" stroke="#3a200a" stroke-width="0.8"/>
 <path d="M923,479.4 L932,477.6 L944.7,502.3 L933,504.1 Z" fill="#fff" stroke="#3a200a" stroke-width="0.8"/>
 <!-- hands -->
 <path d="M879.4,474 C886,476 895,476 903.2,475.8 C908,476 914,477.5 923,479.4 L933,504.1 C929,506 927,507 926.7,506.8 C922,510 918,513 914,514 C909,516 903,517 898,516 C890,512 882,505 875.5,498 Z" fill="#f7c983" stroke="#5a3a14" stroke-width="0.9"/>
 <!-- thumb -->
 <path d="M903.2,475.8 C899,476.5 895.5,477.5 893.3,478.9 C890.5,481.5 889.5,484.5 890.2,487 C890.8,489.5 892,491 893.5,490.6 C895.5,489.8 897,488.5 898.2,488.5 C900,487.5 901.5,486.5 902.3,486.1 C905,486.5 908,488 910.5,489.7 C913,491.5 915.5,493 917.7,494.2" fill="#f9d193" stroke="#5a3a14" stroke-width="0.9"/>
 <!-- fingers bottom-left -->
 <g fill="#f7c983" stroke="#5a3a14" stroke-width="0.9">
  <ellipse cx="880.3" cy="501.4" rx="3.4" ry="2.6" transform="rotate(30 880.3 501.4)"/>
  <ellipse cx="886.1" cy="506" rx="3.6" ry="2.7" transform="rotate(30 886.1 506)"/>
  <ellipse cx="892" cy="509.5" rx="3.6" ry="2.7" transform="rotate(30 892 509.5)"/>
  <ellipse cx="897.5" cy="513" rx="3.4" ry="2.6" transform="rotate(30 897.5 513)"/>
 </g>
 <path d="M905,498 C909,502 912,506 914.5,510 M910,495 C914,499 918,503 921,507 M916,494.5 C920,497.5 923,501 926,505" fill="none" stroke="#b98545" stroke-width="0.7"/>
</g>
<circle cx="902.7" cy="490.7" r="49.3" fill="none" stroke="#9ca2a7" stroke-width="4.6"/>


<!-- ===== RIGHT SECTION 3 ===== -->
<rect x="600.5" y="600.5" width="322" height="109.5" rx="9" fill="none" stroke="url(#qrg)" stroke-width="2.7" opacity="0.88"/>
<g fill="#2a62a8"><rect x="634.40" y="632.20" width="13.38" height="1.95"/><rect x="649.63" y="632.20" width="3.86" height="1.95"/><rect x="655.34" y="632.20" width="1.95" height="1.95"/><rect x="659.15" y="632.20" width="1.95" height="1.95"/><rect x="662.96" y="632.20" width="1.95" height="1.95"/><rect x="668.67" y="632.20" width="13.38" height="1.95"/><rect x="634.40" y="634.10" width="1.95" height="1.95"/><rect x="645.82" y="634.10" width="1.95" height="1.95"/><rect x="651.54" y="634.10" width="1.95" height="1.95"/><rect x="657.25" y="634.10" width="5.76" height="1.95"/><rect x="664.86" y="634.10" width="1.95" height="1.95"/><rect x="668.67" y="634.10" width="1.95" height="1.95"/><rect x="680.10" y="634.10" width="1.95" height="1.95"/><rect x="634.40" y="636.01" width="1.95" height="1.95"/><rect x="638.21" y="636.01" width="5.76" height="1.95"/><rect x="645.82" y="636.01" width="1.95" height="1.95"/><rect x="655.34" y="636.01" width="1.95" height="1.95"/><rect x="661.06" y="636.01" width="3.86" height="1.95"/><rect x="668.67" y="636.01" width="1.95" height="1.95"/><rect x="672.48" y="636.01" width="5.76" height="1.95"/><rect x="680.10" y="636.01" width="1.95" height="1.95"/><rect x="634.40" y="637.91" width="1.95" height="1.95"/><rect x="638.21" y="637.91" width="5.76" height="1.95"/><rect x="645.82" y="637.91" width="1.95" height="1.95"/><rect x="651.54" y="637.91" width="3.86" height="1.95"/><rect x="657.25" y="637.91" width="5.76" height="1.95"/><rect x="664.86" y="637.91" width="1.95" height="1.95"/><rect x="668.67" y="637.91" width="1.95" height="1.95"/><rect x="672.48" y="637.91" width="5.76" height="1.95"/><rect x="680.10" y="637.91" width="1.95" height="1.95"/><rect x="634.40" y="639.82" width="1.95" height="1.95"/><rect x="638.21" y="639.82" width="5.76" height="1.95"/><rect x="645.82" y="639.82" width="1.95" height="1.95"/><rect x="649.63" y="639.82" width="3.86" height="1.95"/><rect x="659.15" y="639.82" width="3.86" height="1.95"/><rect x="664.86" y="639.82" width="1.95" height="1.95"/><rect x="668.67" y="639.82" width="1.95" height="1.95"/><rect x="672.48" y="639.82" width="5.76" height="1.95"/><rect x="680.10" y="639.82" width="1.95" height="1.95"/><rect x="634.40" y="641.72" width="1.95" height="1.95"/><rect x="645.82" y="641.72" width="1.95" height="1.95"/><rect x="649.63" y="641.72" width="7.67" height="1.95"/><rect x="659.15" y="641.72" width="3.86" height="1.95"/><rect x="664.86" y="641.72" width="1.95" height="1.95"/><rect x="668.67" y="641.72" width="1.95" height="1.95"/><rect x="680.10" y="641.72" width="1.95" height="1.95"/><rect x="634.40" y="643.62" width="13.38" height="1.95"/><rect x="649.63" y="643.62" width="1.95" height="1.95"/><rect x="653.44" y="643.62" width="1.95" height="1.95"/><rect x="657.25" y="643.62" width="1.95" height="1.95"/><rect x="661.06" y="643.62" width="1.95" height="1.95"/><rect x="664.86" y="643.62" width="1.95" height="1.95"/><rect x="668.67" y="643.62" width="13.38" height="1.95"/><rect x="649.63" y="645.53" width="3.86" height="1.95"/><rect x="659.15" y="645.53" width="1.95" height="1.95"/><rect x="664.86" y="645.53" width="1.95" height="1.95"/><rect x="636.30" y="647.43" width="1.95" height="1.95"/><rect x="640.11" y="647.43" width="1.95" height="1.95"/><rect x="645.82" y="647.43" width="1.95" height="1.95"/><rect x="653.44" y="647.43" width="1.95" height="1.95"/><rect x="657.25" y="647.43" width="3.86" height="1.95"/><rect x="664.86" y="647.43" width="1.95" height="1.95"/><rect x="670.58" y="647.43" width="3.86" height="1.95"/><rect x="676.29" y="647.43" width="1.95" height="1.95"/><rect x="680.10" y="647.43" width="1.95" height="1.95"/><rect x="634.40" y="649.34" width="1.95" height="1.95"/><rect x="640.11" y="649.34" width="1.95" height="1.95"/><rect x="649.63" y="649.34" width="1.95" height="1.95"/><rect x="655.34" y="649.34" width="5.76" height="1.95"/><rect x="662.96" y="649.34" width="3.86" height="1.95"/><rect x="668.67" y="649.34" width="9.57" height="1.95"/><rect x="634.40" y="651.24" width="1.95" height="1.95"/><rect x="638.21" y="651.24" width="5.76" height="1.95"/><rect x="645.82" y="651.24" width="9.57" height="1.95"/><rect x="659.15" y="651.24" width="7.67" height="1.95"/><rect x="670.58" y="651.24" width="1.95" height="1.95"/><rect x="676.29" y="651.24" width="5.76" height="1.95"/><rect x="636.30" y="653.14" width="1.95" height="1.95"/><rect x="640.11" y="653.14" width="3.86" height="1.95"/><rect x="647.73" y="653.14" width="5.76" height="1.95"/><rect x="657.25" y="653.14" width="1.95" height="1.95"/><rect x="662.96" y="653.14" width="5.76" height="1.95"/><rect x="634.40" y="655.05" width="1.95" height="1.95"/><rect x="638.21" y="655.05" width="3.86" height="1.95"/><rect x="643.92" y="655.05" width="5.76" height="1.95"/><rect x="651.54" y="655.05" width="3.86" height="1.95"/><rect x="657.25" y="655.05" width="1.95" height="1.95"/><rect x="670.58" y="655.05" width="1.95" height="1.95"/><rect x="678.19" y="655.05" width="1.95" height="1.95"/><rect x="636.30" y="656.95" width="3.86" height="1.95"/><rect x="643.92" y="656.95" width="1.95" height="1.95"/><rect x="647.73" y="656.95" width="1.95" height="1.95"/><rect x="653.44" y="656.95" width="11.47" height="1.95"/><rect x="668.67" y="656.95" width="1.95" height="1.95"/><rect x="672.48" y="656.95" width="1.95" height="1.95"/><rect x="634.40" y="658.86" width="1.95" height="1.95"/><rect x="640.11" y="658.86" width="3.86" height="1.95"/><rect x="645.82" y="658.86" width="1.95" height="1.95"/><rect x="649.63" y="658.86" width="1.95" height="1.95"/><rect x="653.44" y="658.86" width="5.76" height="1.95"/><rect x="661.06" y="658.86" width="3.86" height="1.95"/><rect x="668.67" y="658.86" width="1.95" height="1.95"/><rect x="672.48" y="658.86" width="1.95" height="1.95"/><rect x="678.19" y="658.86" width="3.86" height="1.95"/><rect x="634.40" y="660.76" width="11.47" height="1.95"/><rect x="647.73" y="660.76" width="1.95" height="1.95"/><rect x="651.54" y="660.76" width="1.95" height="1.95"/><rect x="655.34" y="660.76" width="1.95" height="1.95"/><rect x="662.96" y="660.76" width="1.95" height="1.95"/><rect x="668.67" y="660.76" width="1.95" height="1.95"/><rect x="674.38" y="660.76" width="5.76" height="1.95"/><rect x="640.11" y="662.66" width="7.67" height="1.95"/><rect x="653.44" y="662.66" width="1.95" height="1.95"/><rect x="657.25" y="662.66" width="3.86" height="1.95"/><rect x="662.96" y="662.66" width="3.86" height="1.95"/><rect x="668.67" y="662.66" width="3.86" height="1.95"/><rect x="676.29" y="662.66" width="5.76" height="1.95"/><rect x="651.54" y="664.57" width="1.95" height="1.95"/><rect x="657.25" y="664.57" width="1.95" height="1.95"/><rect x="661.06" y="664.57" width="1.95" height="1.95"/><rect x="666.77" y="664.57" width="1.95" height="1.95"/><rect x="674.38" y="664.57" width="1.95" height="1.95"/><rect x="634.40" y="666.47" width="13.38" height="1.95"/><rect x="653.44" y="666.47" width="1.95" height="1.95"/><rect x="659.15" y="666.47" width="1.95" height="1.95"/><rect x="662.96" y="666.47" width="3.86" height="1.95"/><rect x="674.38" y="666.47" width="7.67" height="1.95"/><rect x="634.40" y="668.38" width="1.95" height="1.95"/><rect x="645.82" y="668.38" width="1.95" height="1.95"/><rect x="649.63" y="668.38" width="1.95" height="1.95"/><rect x="653.44" y="668.38" width="1.95" height="1.95"/><rect x="657.25" y="668.38" width="5.76" height="1.95"/><rect x="666.77" y="668.38" width="1.95" height="1.95"/><rect x="670.58" y="668.38" width="7.67" height="1.95"/><rect x="634.40" y="670.28" width="1.95" height="1.95"/><rect x="638.21" y="670.28" width="5.76" height="1.95"/><rect x="645.82" y="670.28" width="1.95" height="1.95"/><rect x="649.63" y="670.28" width="3.86" height="1.95"/><rect x="657.25" y="670.28" width="3.86" height="1.95"/><rect x="662.96" y="670.28" width="1.95" height="1.95"/><rect x="670.58" y="670.28" width="1.95" height="1.95"/><rect x="634.40" y="672.18" width="1.95" height="1.95"/><rect x="638.21" y="672.18" width="5.76" height="1.95"/><rect x="645.82" y="672.18" width="1.95" height="1.95"/><rect x="649.63" y="672.18" width="1.95" height="1.95"/><rect x="653.44" y="672.18" width="3.86" height="1.95"/><rect x="659.15" y="672.18" width="1.95" height="1.95"/><rect x="664.86" y="672.18" width="1.95" height="1.95"/><rect x="672.48" y="672.18" width="1.95" height="1.95"/><rect x="678.19" y="672.18" width="3.86" height="1.95"/><rect x="634.40" y="674.09" width="1.95" height="1.95"/><rect x="638.21" y="674.09" width="5.76" height="1.95"/><rect x="645.82" y="674.09" width="1.95" height="1.95"/><rect x="659.15" y="674.09" width="1.95" height="1.95"/><rect x="666.77" y="674.09" width="1.95" height="1.95"/><rect x="670.58" y="674.09" width="11.47" height="1.95"/><rect x="634.40" y="675.99" width="1.95" height="1.95"/><rect x="645.82" y="675.99" width="1.95" height="1.95"/><rect x="649.63" y="675.99" width="3.86" height="1.95"/><rect x="657.25" y="675.99" width="3.86" height="1.95"/><rect x="664.86" y="675.99" width="5.76" height="1.95"/><rect x="672.48" y="675.99" width="9.57" height="1.95"/><rect x="634.40" y="677.90" width="13.38" height="1.95"/><rect x="649.63" y="677.90" width="3.86" height="1.95"/><rect x="655.34" y="677.90" width="7.67" height="1.95"/><rect x="664.86" y="677.90" width="7.67" height="1.95"/><rect x="674.38" y="677.90" width="5.76" height="1.95"/></g><circle cx="658.5" cy="656.5" r="6.8" fill="#fff"/>
<circle cx="658.5" cy="656.5" r="5.2" fill="none" stroke="#e94e3c" stroke-width="1.6" stroke-dasharray="5 3"/>
<circle cx="658.5" cy="656.5" r="5.2" fill="none" stroke="#3aa64a" stroke-width="1.6" stroke-dasharray="3 5" stroke-dashoffset="3"/>
<circle cx="658.5" cy="656.5" r="3.4" fill="#f1f1f1"/><g fill="#2f9c4b"><rect x="834.00" y="632.20" width="12.22" height="1.79"/><rect x="847.90" y="632.20" width="8.74" height="1.79"/><rect x="858.33" y="632.20" width="3.53" height="1.79"/><rect x="867.02" y="632.20" width="1.79" height="1.79"/><rect x="872.23" y="632.20" width="12.22" height="1.79"/><rect x="834.00" y="633.94" width="1.79" height="1.79"/><rect x="844.43" y="633.94" width="1.79" height="1.79"/><rect x="847.90" y="633.94" width="3.53" height="1.79"/><rect x="853.12" y="633.94" width="3.53" height="1.79"/><rect x="860.07" y="633.94" width="1.79" height="1.79"/><rect x="868.76" y="633.94" width="1.79" height="1.79"/><rect x="872.23" y="633.94" width="1.79" height="1.79"/><rect x="882.66" y="633.94" width="1.79" height="1.79"/><rect x="834.00" y="635.68" width="1.79" height="1.79"/><rect x="837.48" y="635.68" width="5.26" height="1.79"/><rect x="844.43" y="635.68" width="1.79" height="1.79"/><rect x="851.38" y="635.68" width="1.79" height="1.79"/><rect x="854.86" y="635.68" width="1.79" height="1.79"/><rect x="863.54" y="635.68" width="3.53" height="1.79"/><rect x="868.76" y="635.68" width="1.79" height="1.79"/><rect x="872.23" y="635.68" width="1.79" height="1.79"/><rect x="875.71" y="635.68" width="5.26" height="1.79"/><rect x="882.66" y="635.68" width="1.79" height="1.79"/><rect x="834.00" y="637.41" width="1.79" height="1.79"/><rect x="837.48" y="637.41" width="5.26" height="1.79"/><rect x="844.43" y="637.41" width="1.79" height="1.79"/><rect x="847.90" y="637.41" width="3.53" height="1.79"/><rect x="854.86" y="637.41" width="8.74" height="1.79"/><rect x="865.28" y="637.41" width="5.26" height="1.79"/><rect x="872.23" y="637.41" width="1.79" height="1.79"/><rect x="875.71" y="637.41" width="5.26" height="1.79"/><rect x="882.66" y="637.41" width="1.79" height="1.79"/><rect x="834.00" y="639.15" width="1.79" height="1.79"/><rect x="837.48" y="639.15" width="5.26" height="1.79"/><rect x="844.43" y="639.15" width="1.79" height="1.79"/><rect x="847.90" y="639.15" width="19.17" height="1.79"/><rect x="872.23" y="639.15" width="1.79" height="1.79"/><rect x="875.71" y="639.15" width="5.26" height="1.79"/><rect x="882.66" y="639.15" width="1.79" height="1.79"/><rect x="834.00" y="640.89" width="1.79" height="1.79"/><rect x="844.43" y="640.89" width="1.79" height="1.79"/><rect x="851.38" y="640.89" width="1.79" height="1.79"/><rect x="854.86" y="640.89" width="1.79" height="1.79"/><rect x="863.54" y="640.89" width="5.26" height="1.79"/><rect x="872.23" y="640.89" width="1.79" height="1.79"/><rect x="882.66" y="640.89" width="1.79" height="1.79"/><rect x="834.00" y="642.63" width="12.22" height="1.79"/><rect x="847.90" y="642.63" width="1.79" height="1.79"/><rect x="851.38" y="642.63" width="1.79" height="1.79"/><rect x="854.86" y="642.63" width="1.79" height="1.79"/><rect x="858.33" y="642.63" width="1.79" height="1.79"/><rect x="861.81" y="642.63" width="1.79" height="1.79"/><rect x="865.28" y="642.63" width="1.79" height="1.79"/><rect x="868.76" y="642.63" width="1.79" height="1.79"/><rect x="872.23" y="642.63" width="12.22" height="1.79"/><rect x="847.90" y="644.37" width="3.53" height="1.79"/><rect x="854.86" y="644.37" width="5.26" height="1.79"/><rect x="863.54" y="644.37" width="1.79" height="1.79"/><rect x="834.00" y="646.10" width="1.79" height="1.79"/><rect x="839.21" y="646.10" width="7.00" height="1.79"/><rect x="847.90" y="646.10" width="5.26" height="1.79"/><rect x="854.86" y="646.10" width="3.53" height="1.79"/><rect x="861.81" y="646.10" width="1.79" height="1.79"/><rect x="870.50" y="646.10" width="7.00" height="1.79"/><rect x="879.19" y="646.10" width="3.53" height="1.79"/><rect x="835.74" y="647.84" width="1.79" height="1.79"/><rect x="842.69" y="647.84" width="1.79" height="1.79"/><rect x="846.17" y="647.84" width="3.53" height="1.79"/><rect x="858.33" y="647.84" width="1.79" height="1.79"/><rect x="867.02" y="647.84" width="1.79" height="1.79"/><rect x="870.50" y="647.84" width="1.79" height="1.79"/><rect x="879.19" y="647.84" width="1.79" height="1.79"/><rect x="835.74" y="649.58" width="10.48" height="1.79"/><rect x="851.38" y="649.58" width="1.79" height="1.79"/><rect x="856.59" y="649.58" width="1.79" height="1.79"/><rect x="861.81" y="649.58" width="1.79" height="1.79"/><rect x="865.28" y="649.58" width="3.53" height="1.79"/><rect x="872.23" y="649.58" width="3.53" height="1.79"/><rect x="877.45" y="649.58" width="5.26" height="1.79"/><rect x="834.00" y="651.32" width="1.79" height="1.79"/><rect x="837.48" y="651.32" width="5.26" height="1.79"/><rect x="846.17" y="651.32" width="1.79" height="1.79"/><rect x="853.12" y="651.32" width="5.26" height="1.79"/><rect x="860.07" y="651.32" width="5.26" height="1.79"/><rect x="868.76" y="651.32" width="3.53" height="1.79"/><rect x="877.45" y="651.32" width="3.53" height="1.79"/><rect x="882.66" y="651.32" width="1.79" height="1.79"/><rect x="834.00" y="653.06" width="1.79" height="1.79"/><rect x="840.95" y="653.06" width="1.79" height="1.79"/><rect x="844.43" y="653.06" width="1.79" height="1.79"/><rect x="847.90" y="653.06" width="3.53" height="1.79"/><rect x="854.86" y="653.06" width="3.53" height="1.79"/><rect x="860.07" y="653.06" width="12.22" height="1.79"/><rect x="873.97" y="653.06" width="1.79" height="1.79"/><rect x="877.45" y="653.06" width="7.00" height="1.79"/><rect x="834.00" y="654.79" width="1.79" height="1.79"/><rect x="839.21" y="654.79" width="3.53" height="1.79"/><rect x="847.90" y="654.79" width="3.53" height="1.79"/><rect x="853.12" y="654.79" width="1.79" height="1.79"/><rect x="860.07" y="654.79" width="1.79" height="1.79"/><rect x="867.02" y="654.79" width="8.74" height="1.79"/><rect x="877.45" y="654.79" width="5.26" height="1.79"/><rect x="837.48" y="656.53" width="12.22" height="1.79"/><rect x="854.86" y="656.53" width="1.79" height="1.79"/><rect x="858.33" y="656.53" width="8.74" height="1.79"/><rect x="868.76" y="656.53" width="1.79" height="1.79"/><rect x="872.23" y="656.53" width="12.22" height="1.79"/><rect x="834.00" y="658.27" width="1.79" height="1.79"/><rect x="846.17" y="658.27" width="3.53" height="1.79"/><rect x="851.38" y="658.27" width="1.79" height="1.79"/><rect x="856.59" y="658.27" width="1.79" height="1.79"/><rect x="867.02" y="658.27" width="1.79" height="1.79"/><rect x="834.00" y="660.01" width="8.74" height="1.79"/><rect x="844.43" y="660.01" width="1.79" height="1.79"/><rect x="851.38" y="660.01" width="3.53" height="1.79"/><rect x="863.54" y="660.01" width="1.79" height="1.79"/><rect x="867.02" y="660.01" width="5.26" height="1.79"/><rect x="873.97" y="660.01" width="1.79" height="1.79"/><rect x="879.19" y="660.01" width="5.26" height="1.79"/><rect x="840.95" y="661.74" width="3.53" height="1.79"/><rect x="847.90" y="661.74" width="1.79" height="1.79"/><rect x="851.38" y="661.74" width="5.26" height="1.79"/><rect x="861.81" y="661.74" width="1.79" height="1.79"/><rect x="865.28" y="661.74" width="5.26" height="1.79"/><rect x="872.23" y="661.74" width="1.79" height="1.79"/><rect x="877.45" y="661.74" width="3.53" height="1.79"/><rect x="834.00" y="663.48" width="5.26" height="1.79"/><rect x="840.95" y="663.48" width="1.79" height="1.79"/><rect x="844.43" y="663.48" width="1.79" height="1.79"/><rect x="849.64" y="663.48" width="1.79" height="1.79"/><rect x="858.33" y="663.48" width="1.79" height="1.79"/><rect x="861.81" y="663.48" width="15.69" height="1.79"/><rect x="879.19" y="663.48" width="1.79" height="1.79"/><rect x="834.00" y="665.22" width="1.79" height="1.79"/><rect x="840.95" y="665.22" width="3.53" height="1.79"/><rect x="849.64" y="665.22" width="8.74" height="1.79"/><rect x="860.07" y="665.22" width="1.79" height="1.79"/><rect x="863.54" y="665.22" width="3.53" height="1.79"/><rect x="868.76" y="665.22" width="3.53" height="1.79"/><rect x="835.74" y="666.96" width="1.79" height="1.79"/><rect x="839.21" y="666.96" width="1.79" height="1.79"/><rect x="844.43" y="666.96" width="3.53" height="1.79"/><rect x="849.64" y="666.96" width="7.00" height="1.79"/><rect x="860.07" y="666.96" width="1.79" height="1.79"/><rect x="863.54" y="666.96" width="1.79" height="1.79"/><rect x="867.02" y="666.96" width="7.00" height="1.79"/><rect x="875.71" y="666.96" width="3.53" height="1.79"/><rect x="882.66" y="666.96" width="1.79" height="1.79"/><rect x="851.38" y="668.70" width="3.53" height="1.79"/><rect x="856.59" y="668.70" width="7.00" height="1.79"/><rect x="865.28" y="668.70" width="1.79" height="1.79"/><rect x="872.23" y="668.70" width="8.74" height="1.79"/><rect x="834.00" y="670.43" width="12.22" height="1.79"/><rect x="847.90" y="670.43" width="1.79" height="1.79"/><rect x="856.59" y="670.43" width="5.26" height="1.79"/><rect x="872.23" y="670.43" width="1.79" height="1.79"/><rect x="875.71" y="670.43" width="1.79" height="1.79"/><rect x="879.19" y="670.43" width="1.79" height="1.79"/><rect x="834.00" y="672.17" width="1.79" height="1.79"/><rect x="844.43" y="672.17" width="1.79" height="1.79"/><rect x="849.64" y="672.17" width="3.53" height="1.79"/><rect x="854.86" y="672.17" width="5.26" height="1.79"/><rect x="865.28" y="672.17" width="5.26" height="1.79"/><rect x="873.97" y="672.17" width="5.26" height="1.79"/><rect x="880.92" y="672.17" width="3.53" height="1.79"/><rect x="834.00" y="673.91" width="1.79" height="1.79"/><rect x="837.48" y="673.91" width="5.26" height="1.79"/><rect x="844.43" y="673.91" width="1.79" height="1.79"/><rect x="853.12" y="673.91" width="1.79" height="1.79"/><rect x="856.59" y="673.91" width="1.79" height="1.79"/><rect x="860.07" y="673.91" width="3.53" height="1.79"/><rect x="865.28" y="673.91" width="1.79" height="1.79"/><rect x="868.76" y="673.91" width="7.00" height="1.79"/><rect x="879.19" y="673.91" width="5.26" height="1.79"/><rect x="834.00" y="675.65" width="1.79" height="1.79"/><rect x="837.48" y="675.65" width="5.26" height="1.79"/><rect x="844.43" y="675.65" width="1.79" height="1.79"/><rect x="851.38" y="675.65" width="3.53" height="1.79"/><rect x="858.33" y="675.65" width="1.79" height="1.79"/><rect x="861.81" y="675.65" width="12.22" height="1.79"/><rect x="875.71" y="675.65" width="1.79" height="1.79"/><rect x="879.19" y="675.65" width="3.53" height="1.79"/><rect x="834.00" y="677.39" width="1.79" height="1.79"/><rect x="837.48" y="677.39" width="5.26" height="1.79"/><rect x="844.43" y="677.39" width="1.79" height="1.79"/><rect x="849.64" y="677.39" width="3.53" height="1.79"/><rect x="856.59" y="677.39" width="5.26" height="1.79"/><rect x="863.54" y="677.39" width="1.79" height="1.79"/><rect x="868.76" y="677.39" width="3.53" height="1.79"/><rect x="875.71" y="677.39" width="1.79" height="1.79"/><rect x="879.19" y="677.39" width="5.26" height="1.79"/><rect x="834.00" y="679.12" width="1.79" height="1.79"/><rect x="844.43" y="679.12" width="1.79" height="1.79"/><rect x="849.64" y="679.12" width="7.00" height="1.79"/><rect x="858.33" y="679.12" width="1.79" height="1.79"/><rect x="868.76" y="679.12" width="5.26" height="1.79"/><rect x="875.71" y="679.12" width="3.53" height="1.79"/><rect x="880.92" y="679.12" width="3.53" height="1.79"/><rect x="834.00" y="680.86" width="12.22" height="1.79"/><rect x="847.90" y="680.86" width="3.53" height="1.79"/><rect x="853.12" y="680.86" width="5.26" height="1.79"/><rect x="867.02" y="680.86" width="1.79" height="1.79"/><rect x="870.50" y="680.86" width="1.79" height="1.79"/><rect x="873.97" y="680.86" width="1.79" height="1.79"/><rect x="877.45" y="680.86" width="7.00" height="1.79"/></g><circle cx="859.2" cy="656.6" r="7" fill="#fff"/>
<path d="M853.5,657 A5.8,5.8 0 0 1 865,657" fill="none" stroke="#555" stroke-width="0.8"/>
<path d="M853.5,658 L865,658" stroke="#e94e3c" stroke-width="1.2"/>
<path d="M854,659.5 A5.5,5.5 0 0 0 864.5,659.5" fill="none" stroke="#3aa64a" stroke-width="0.9"/><text x="631.3" y="699.9" font-family="Liberation Sans" font-weight="bold" font-size="10.6" fill="#2c5e9e" textLength="55" lengthAdjust="spacingAndGlyphs">FINGRAM.REA.RU</text>
<text x="835" y="697.6" font-family="Liberation Sans" font-weight="bold" font-size="8.1" fill="#1d1d1b" textLength="56" lengthAdjust="spacingAndGlyphs">МОИФИНАНСЫ.РФ</text>
<rect x="835" y="701.1" width="8" height="1.8" fill="#b9bbbd"/>
<rect x="843.5" y="701.1" width="24.2" height="1.8" fill="#2f9c4b"/>
<rect x="868" y="701.1" width="6" height="1.8" fill="#f3a23c"/>
<rect x="875" y="701.1" width="5" height="1.8" fill="#d9336b"/>
<rect x="880.2" y="701.1" width="6.3" height="1.8" fill="#2e3d8c"/>
<rect x="887.5" y="701.1" width="5.5" height="1.8" fill="#5ec6e6"/>
</svg>

<div class="t" id="h1" style="left:116.00px;top:16.87px;font-size:9.60px;letter-spacing:0.535px;transform:scaleY(0.9813);transform-origin:0 8.13px;color:#979a9d">СХЕМА «ЦИФРОВОЙ ДВОЙНИК РУКОВОДИТЕЛЯ»</div>
<div class="t" id="h2" style="left:627.00px;top:16.87px;font-size:9.60px;letter-spacing:0.549px;transform:scaleY(0.9813);transform-origin:0 8.13px;color:#979a9d">СХЕМА «ЦИФРОВОЙ ДВОЙНИК РУКОВОДИТЕЛЯ»</div>
<div class="t" id="l1" style="left:29.50px;top:48.26px;font-size:13.40px;letter-spacing:0.322px;transform:scaleY(0.9518);transform-origin:0 11.34px;color:#fff">Алгоритм действий</div>
<div class="t" id="l2a" style="left:31.00px;top:364.57px;font-size:13.50px;letter-spacing:0.531px;transform:scaleY(0.9232);transform-origin:0 11.43px;color:#fff">Правила, которым нужно следовать,</div>
<div class="t" id="l2b" style="left:31.00px;top:378.17px;font-size:13.50px;letter-spacing:0.569px;transform:scaleY(0.9232);transform-origin:0 11.43px;color:#fff">чтобы не стать жертвой мошенников</div>
<div class="t" id="l3a" style="left:538.00px;top:45.37px;font-size:13.50px;letter-spacing:0.566px;transform:scaleY(0.9340);transform-origin:0 11.43px;color:#fff">Правила, которым нужно следовать,</div>
<div class="t" id="l3b" style="left:538.00px;top:58.97px;font-size:13.50px;letter-spacing:0.582px;transform:scaleY(0.9340);transform-origin:0 11.43px;color:#fff">чтобы не стать жертвой мошенников</div>
<div class="t" id="s1" style="left:38.50px;top:120.26px;font-size:10.32px;letter-spacing:0.022px;transform:scaleY(0.9826);transform-origin:0 8.74px;">Подозрительный</div>
<div class="t" id="s2" style="left:67.50px;top:133.76px;font-size:10.32px;letter-spacing:-0.026px;transform:scaleY(0.9826);transform-origin:0 8.74px;">номер</div>
<div class="t" id="d1" style="left:256.50px;top:94.99px;font-size:11.59px;letter-spacing:0.004px;transform:scaleY(0.9004);transform-origin:0 9.81px;">Подозрительные звонки</div>
<div class="t" id="d2" style="left:256.50px;top:109.39px;font-size:11.59px;letter-spacing:0.054px;transform:scaleY(0.9004);transform-origin:0 9.81px;"><span style="font-weight:normal">нужно </span><span style="color:#c00f2c">НЕМЕДЛЕННО ПРЕРЫВАТЬ</span><span style="font-weight:normal">,</span></div>
<div class="t" id="d3" style="left:256.50px;top:123.89px;font-size:11.59px;letter-spacing:0.257px;transform:scaleY(0.9004);transform-origin:0 9.81px;"><span style="font-weight:normal">а полученную от собеседника</span></div>
<div class="t" id="d4" style="left:256.50px;top:138.59px;font-size:11.59px;letter-spacing:-0.004px;transform:scaleY(0.9004);transform-origin:0 9.81px;">информацию перепроверить,</div>
<div class="t" id="d5" style="left:256.50px;top:153.19px;font-size:11.59px;letter-spacing:-0.033px;transform:scaleY(0.9004);transform-origin:0 9.81px;">обратившись к руководителю</div>
<div class="t" id="d6" style="left:256.50px;top:167.69px;font-size:11.59px;letter-spacing:-0.009px;transform:scaleY(0.9004);transform-origin:0 9.81px;">через привычный канал связи.</div>
<div class="t" id="t1" style="left:105.80px;top:514.75px;font-size:11.52px;letter-spacing:-0.030px;transform:scaleY(0.9436);transform-origin:0 9.75px;">Всегда <span style="color:#c00f2c">ПЕРЕПРОВЕРЯЙТЕ</span></div>
<div class="t" id="t2" style="left:105.00px;top:528.85px;font-size:11.52px;letter-spacing:0.029px;transform:scaleY(0.9436);transform-origin:0 9.75px;">полученную информацию.</div>
<div class="t" id="b1" style="left:130.00px;top:616.69px;font-size:11.59px;letter-spacing:-0.042px;transform:scaleY(0.9127);transform-origin:0 9.81px;">Помните, что <span style="color:#c00f2c">РАБОТОДАТЕЛЬ НЕ МОЖЕТ ТРЕБОВАТЬ</span></div>
<div class="t" id="b2" style="left:130.00px;top:630.99px;font-size:11.59px;letter-spacing:0.021px;transform:scaleY(0.9127);transform-origin:0 9.81px;">от сотрудников ПЕРЕВОДИТЬ СРЕДСТВА в качестве</div>
<div class="t" id="b3" style="left:130.00px;top:645.49px;font-size:11.59px;letter-spacing:0.022px;transform:scaleY(0.9127);transform-origin:0 9.81px;">помощи организации или ВЫВОДИТЬ СРЕДСТВА</div>
<div class="t" id="b4" style="left:130.00px;top:659.69px;font-size:11.59px;letter-spacing:-0.020px;transform:scaleY(0.9127);transform-origin:0 9.81px;">на «безопасные» счета.</div>
<div class="t" id="r1" style="left:564.00px;top:164.70px;font-size:11.58px;letter-spacing:0.115px;transform:scaleY(0.9761);transform-origin:0 9.80px;"><span style="color:#c00f2c">НИКОГДА НЕ ПЕРЕДАВАЙТЕ</span></div>
<div class="t" id="r2" style="left:564.00px;top:179.20px;font-size:11.58px;letter-spacing:-0.033px;transform:scaleY(0.9761);transform-origin:0 9.80px;">свои персональные сведения</div>
<div class="t" id="r3" style="left:564.00px;top:193.70px;font-size:11.58px;letter-spacing:0.026px;transform:scaleY(0.9761);transform-origin:0 9.80px;">и коды подтверждения</div>
<div class="t" id="r4" style="left:564.00px;top:208.20px;font-size:11.58px;letter-spacing:-0.039px;transform:scaleY(0.9761);transform-origin:0 9.80px;">третьим лицам, даже если они</div>
<div class="t" id="r5" style="left:564.00px;top:222.70px;font-size:11.58px;letter-spacing:-0.010px;transform:scaleY(0.9761);transform-origin:0 9.80px;">представляются сотрудниками</div>
<div class="t" id="r6" style="left:564.00px;top:237.20px;font-size:11.58px;letter-spacing:0.045px;transform:scaleY(0.9761);transform-origin:0 9.80px;">государственных учреждений</div>
<div class="t" id="r7" style="left:564.00px;top:251.70px;font-size:11.58px;letter-spacing:-0.069px;transform:scaleY(0.9761);transform-origin:0 9.80px;">или представителями</div>
<div class="t" id="r8" style="left:564.00px;top:266.20px;font-size:11.58px;letter-spacing:0.010px;transform:scaleY(0.9761);transform-origin:0 9.80px;">компании-работодателя.</div>
<div class="t" id="v0" style="left:559.20px;top:403.98px;font-size:14.08px;letter-spacing:0.000px;transform:scaleY(0.9261);transform-origin:0 11.92px;color:#fff">Важно!</div>
<div class="t" id="v1" style="left:556.00px;top:426.76px;font-size:11.51px;letter-spacing:-0.000px;transform:scaleY(0.9191);transform-origin:0 9.74px;">Вы всегда <span style="color:#c00f2c">МОЖЕТЕ СВЯЗАТЬСЯ</span> с написавшим Вам</div>
<div class="t" id="v2" style="left:556.00px;top:440.96px;font-size:11.51px;letter-spacing:0.087px;transform:scaleY(0.9191);transform-origin:0 9.74px;">руководителем иным ПРОВЕРЕННЫМ СПОСОБОМ.</div>
<div class="t" id="v3" style="left:556.00px;top:455.26px;font-size:11.51px;letter-spacing:0.000px;transform:scaleY(0.9191);transform-origin:0 9.74px;">Если такой возможности нет, стоит задуматься,</div>
<div class="t" id="v4" style="left:556.00px;top:470.06px;font-size:11.51px;letter-spacing:-0.047px;transform:scaleY(0.9191);transform-origin:0 9.74px;">будет ли Вам лично писать руководитель,</div>
<div class="t" id="v5" style="left:556.00px;top:484.66px;font-size:11.51px;letter-spacing:0.017px;transform:scaleY(0.9191);transform-origin:0 9.74px;">с которым нет прямой связи.</div>
<div class="t" id="q1" style="left:713.60px;top:639.31px;font-size:8.85px;letter-spacing:0.004px;transform:scaleY(0.9172);transform-origin:0 7.49px;">Больше информации</div>
<div class="t" id="q2" style="left:705.20px;top:650.11px;font-size:8.85px;letter-spacing:0.133px;transform:scaleY(0.9172);transform-origin:0 7.49px;">на странице ФМЦ ФГН</div>
<div class="t" id="q3" style="left:732.80px;top:661.11px;font-size:8.85px;letter-spacing:-0.003px;transform:scaleY(0.9172);transform-origin:0 7.49px;">и на портале</div>
<div class="t" id="q4" style="left:718.40px;top:671.81px;font-size:8.85px;letter-spacing:-0.033px;transform:scaleY(0.9172);transform-origin:0 7.49px;">Моифинансы.рф</div>
</body></html>
